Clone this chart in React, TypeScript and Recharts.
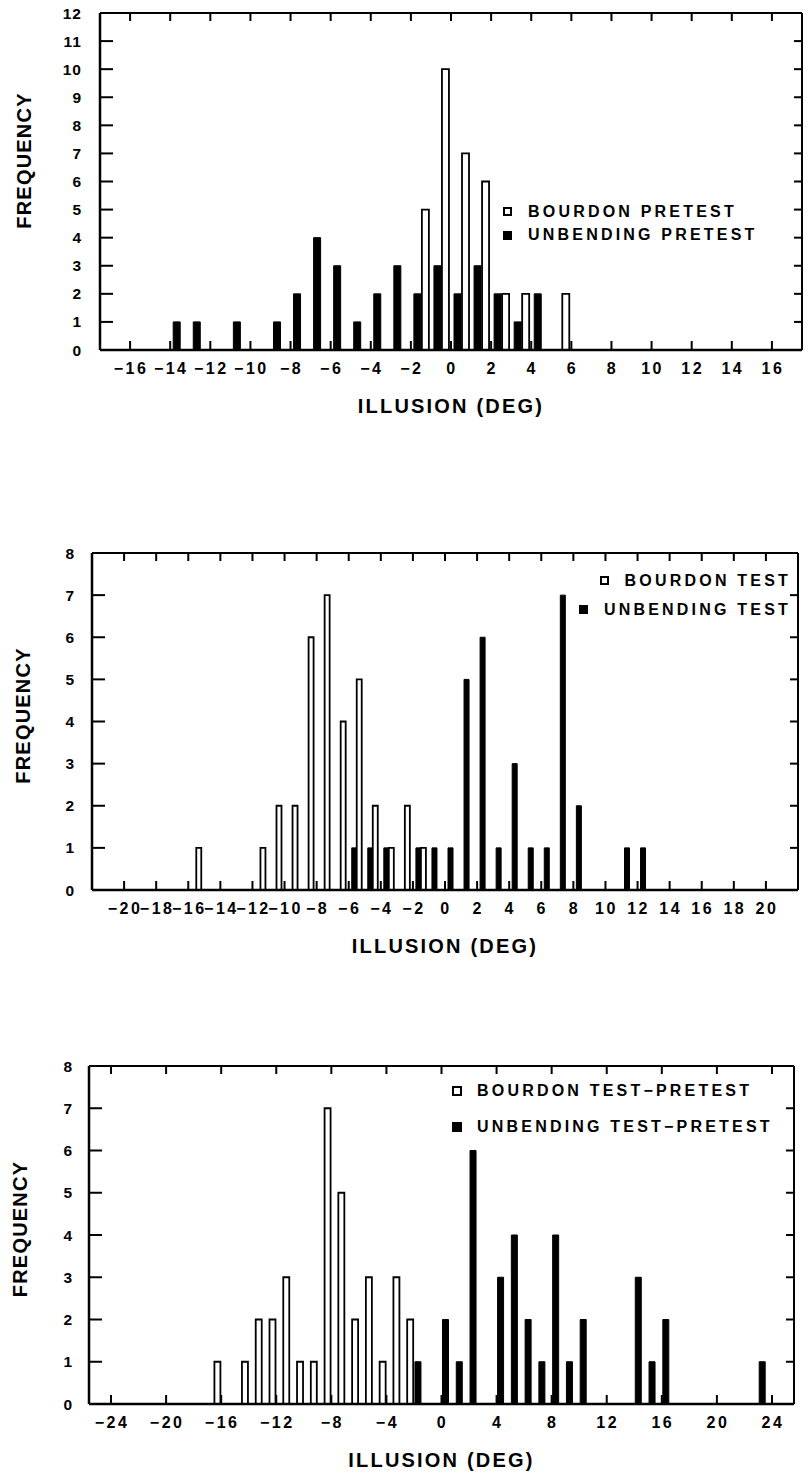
import React from 'react';
import { BarChart, Bar, XAxis, YAxis, Legend } from 'recharts';

const FONT = '"Liberation Sans", Arial, Helvetica, sans-serif';

// ---------- Panel 1: pretest (bins are lower edges of 1-degree bins) ----------
const bins1 = [-14, -13, -12, -11, -10, -9, -8, -7, -6, -5, -4, -3, -2, -1, 0, 1, 2, 3, 4, 5];
const unbending1 = [1, 1, 0, 1, 0, 1, 2, 4, 3, 1, 2, 3, 2, 3, 2, 3, 2, 1, 2, 0];
const bourdon1 = [0, 0, 0, 0, 0, 0, 0, 0, 0, 0, 0, 0, 5, 10, 7, 6, 2, 2, 0, 2];
const xTicks1 = [-16, -14, -12, -10, -8, -6, -4, -2, 0, 2, 4, 6, 8, 10, 12, 14, 16];
const yTicks1 = [0, 1, 2, 3, 4, 5, 6, 7, 8, 9, 10, 11, 12];
const names1 = { bourdon: 'BOURDON PRETEST', unbending: 'UNBENDING PRETEST' };

// ---------- Panel 2: test ----------
const bins2 = [-16, -15, -14, -13, -12, -11, -10, -9, -8, -7, -6, -5, -4, -3, -2, -1, 0, 1, 2, 3, 4, 5, 6, 7, 8, 9, 10, 11, 12];
const bourdon2 = [1, 0, 0, 0, 1, 2, 2, 6, 7, 4, 5, 2, 1, 2, 1, 0, 0, 0, 0, 0, 0, 0, 0, 0, 0, 0, 0, 0, 0];
const unbending2 = [0, 0, 0, 0, 0, 0, 0, 0, 0, 0, 1, 1, 1, 0, 1, 1, 1, 5, 6, 1, 3, 1, 1, 7, 2, 0, 0, 1, 1];
const xTicks2 = [-20, -18, -16, -14, -12, -10, -8, -6, -4, -2, 0, 2, 4, 6, 8, 10, 12, 14, 16, 18, 20];
const yTicks2 = [0, 1, 2, 3, 4, 5, 6, 7, 8];
const names2 = { bourdon: 'BOURDON TEST', unbending: 'UNBENDING TEST' };

// ---------- Panel 3: test - pretest ----------
const bins3 = [-17, -16, -15, -14, -13, -12, -11, -10, -9, -8, -7, -6, -5, -4, -3, -2, -1, 0, 1, 2, 3, 4, 5, 6, 7, 8, 9, 10, 11, 12, 13, 14, 15, 16, 17, 18, 19, 20, 21, 22, 23];
const bourdon3 = [1, 0, 1, 2, 2, 3, 1, 1, 7, 5, 2, 3, 1, 3, 2, 0, 0, 0, 0, 0, 0, 0, 0, 0, 0, 0, 0, 0, 0, 0, 0, 0, 0, 0, 0, 0, 0, 0, 0, 0, 0];
const unbending3 = [0, 0, 0, 0, 0, 0, 0, 0, 0, 0, 0, 0, 0, 0, 0, 1, 0, 2, 1, 6, 0, 3, 4, 2, 1, 4, 1, 2, 0, 0, 0, 3, 1, 2, 0, 0, 0, 0, 0, 0, 1];
const xTicks3 = [-24, -20, -16, -12, -8, -4, 0, 4, 8, 12, 16, 20, 24];
const yTicks3 = [0, 1, 2, 3, 4, 5, 6, 7, 8];
const names3 = { bourdon: 'BOURDON TEST\u2212PRETEST', unbending: 'UNBENDING TEST\u2212PRETEST' };

const makeData = (bins: number[], unb: number[], bou: number[]) =>
  bins.map((b, i) => ({ x: b + 0.5, unbending: unb[i] || null, bourdon: bou[i] || null }));

const fmt = (v: number) => (v < 0 ? '\u2212' + Math.abs(v) : String(v));

function XTick(props: any) {
  const { x, y, payload } = props;
  return (
    <text x={x + 1} y={y} dy="0.71em" textAnchor="middle" fill="#000" fontSize={16} fontWeight={700} fontFamily={FONT} letterSpacing={2.5}>
      {fmt(payload.value)}
    </text>
  );
}

function YTick(props: any) {
  const { x, y, payload } = props;
  return (
    <text x={x} y={y} dy="0.36em" textAnchor="end" fill="#000" fontSize={15.5} fontWeight={700} fontFamily={FONT} letterSpacing={1}>
      {fmt(payload.value)}
    </text>
  );
}

function EmptyTick() {
  return <g />;
}

type LegendOpts = { rowH: number; align: 'left' | 'right'; sq: number; gap: number };

function makeLegend(names: { bourdon: string; unbending: string }, o: LegendOpts) {
  const order: ('bourdon' | 'unbending')[] = ['bourdon', 'unbending'];
  return (props: any) => {
    const payload: any[] = props.payload || [];
    return (
      <div style={{ fontFamily: FONT, fontWeight: 700, fontSize: 16, letterSpacing: 3.2, color: '#000' }}>
        {order.map((k) => {
          const p = payload.find((e: any) => e.dataKey === k);
          const label = (p && p.value) || names[k];
          return (
            <div
              key={k}
              style={{
                display: 'flex',
                alignItems: 'center',
                justifyContent: o.align === 'right' ? 'flex-end' : 'flex-start',
                height: o.rowH,
              }}
            >
              <span
                style={{
                  display: 'inline-block',
                  width: o.sq,
                  height: o.sq,
                  boxSizing: 'border-box',
                  border: '2px solid #000',
                  background: k === 'unbending' ? '#000' : '#fff',
                  marginRight: o.gap,
                  flex: 'none',
                }}
              />
              <span style={{ lineHeight: 1, whiteSpace: 'nowrap' }}>{label}</span>
            </div>
          );
        })}
      </div>
    );
  };
}

type Box = { top: number; right: number; bottom: number; left: number };

type PanelSpec = {
  top: number;
  height: number;
  plot: Box; // plot edges measured from the chart's own box
  data: any[];
  xDomain: [number, number];
  xTicks: number[];
  yMax: number;
  yTicks: number[];
  barSize: number;
  barGap: number;
  names: { bourdon: string; unbending: string };
  legendBox: { left: number; top: number; width: number };
  legendOpts: LegendOpts;
  yTitle: { offset: number; dy: number };
  yLabelGap: number;
};

const AX = 1; // size reserved for every axis (must be > 0 to be drawn)
const BLACK = { stroke: '#000', strokeWidth: 2 };

function Panel(s: PanelSpec) {
  // bottom and left sides each hold two stacked axes (labels + inward tick marks)
  const margin = {
    top: s.plot.top - AX,
    right: s.plot.right - AX,
    bottom: s.plot.bottom - 2 * AX,
    left: s.plot.left - 2 * AX,
  };
  return (
    <div style={{ position: 'absolute', left: 0, top: s.top }}>
      <BarChart width={810} height={s.height} data={s.data} margin={margin} barGap={s.barGap} barCategoryGap={0}>
        {/* bottom axis: line + labels */}
        <XAxis
          xAxisId="b"
          dataKey="x"
          type="number"
          domain={s.xDomain}
          ticks={s.xTicks}
          interval={0}
          allowDataOverflow
          orientation="bottom"
          height={AX}
          {...BLACK}
          axisLine={{ stroke: '#000', strokeWidth: 2.5 }}
          tickLine={false}
          tickSize={0}
          tickMargin={13}
          tick={<XTick />}
          label={{
            value: 'ILLUSION (DEG)',
            position: 'bottom',
            offset: 48,
            fill: '#000',
            fontSize: 20,
            fontWeight: 700,
            fontFamily: FONT,
            style: { letterSpacing: '2.2px' },
          }}
        />
        {/* bottom axis: inward tick marks */}
        <XAxis
          xAxisId="bm"
          dataKey="x"
          type="number"
          domain={s.xDomain}
          ticks={s.xTicks}
          interval={0}
          allowDataOverflow
          orientation="bottom"
          mirror
          height={AX}
          {...BLACK}
          axisLine={false}
          tickLine={BLACK}
          tickSize={9}
          tick={EmptyTick}
        />
        {/* top axis: frame line + inward tick marks */}
        <XAxis
          xAxisId="t"
          dataKey="x"
          type="number"
          domain={s.xDomain}
          ticks={s.xTicks}
          interval={0}
          allowDataOverflow
          orientation="top"
          mirror
          height={AX}
          {...BLACK}
          axisLine={BLACK}
          tickLine={BLACK}
          tickSize={8}
          tick={EmptyTick}
        />
        {/* left axis: line + labels */}
        <YAxis
          yAxisId="l"
          type="number"
          domain={[0, s.yMax]}
          ticks={s.yTicks}
          interval={0}
          allowDataOverflow
          orientation="left"
          width={AX}
          {...BLACK}
          axisLine={{ stroke: '#000', strokeWidth: 2.5 }}
          tickLine={false}
          tickSize={0}
          tickMargin={s.yLabelGap}
          tick={<YTick />}
          label={{
            value: 'FREQUENCY',
            angle: -90,
            position: 'left',
            offset: s.yTitle.offset,
            dy: s.yTitle.dy,
            fill: '#000',
            fontSize: 20,
            fontWeight: 700,
            fontFamily: FONT,
            style: { textAnchor: 'middle', letterSpacing: '1.2px' },
          }}
        />
        {/* left axis: inward tick marks */}
        <YAxis
          yAxisId="lm"
          type="number"
          domain={[0, s.yMax]}
          ticks={s.yTicks}
          interval={0}
          allowDataOverflow
          orientation="left"
          mirror
          width={AX}
          {...BLACK}
          axisLine={false}
          tickLine={BLACK}
          tickSize={13}
          tick={EmptyTick}
        />
        {/* right axis: frame line + inward tick marks */}
        <YAxis
          yAxisId="r"
          type="number"
          domain={[0, s.yMax]}
          ticks={s.yTicks}
          interval={0}
          allowDataOverflow
          orientation="right"
          mirror
          width={AX}
          {...BLACK}
          axisLine={BLACK}
          tickLine={BLACK}
          tickSize={8}
          tick={EmptyTick}
        />
        <Bar
          xAxisId="b"
          yAxisId="l"
          dataKey="unbending"
          name={s.names.unbending}
          fill="#000"
          stroke="#000"
          strokeWidth={1}
          barSize={s.barSize}
          isAnimationActive={false}
        />
        <Bar
          xAxisId="b"
          yAxisId="l"
          dataKey="bourdon"
          name={s.names.bourdon}
          fill="#fff"
          stroke="#000"
          strokeWidth={1.8}
          barSize={s.barSize}
          isAnimationActive={false}
        />
        <Legend
          layout="vertical"
          align="center"
          verticalAlign="middle"
          content={makeLegend(s.names, s.legendOpts)}
          wrapperStyle={{ position: 'absolute', left: s.legendBox.left, top: s.legendBox.top, width: s.legendBox.width }}
        />
      </BarChart>
    </div>
  );
}

export default function App() {
  return (
    <div style={{ position: 'absolute', left: 0, top: 0, width: 810, height: 1475, background: '#fff' }}>
      <Panel
        top={0}
        height={460}
        plot={{ top: 14, right: 9, bottom: 111, left: 101 }}
        data={makeData(bins1, unbending1, bourdon1)}
        xDomain={[-17.5, 17.5]}
        xTicks={xTicks1}
        yMax={12}
        yTicks={yTicks1}
        barSize={7}
        barGap={1}
        names={names1}
        legendBox={{ left: 503, top: 200, width: 290 }}
        legendOpts={{ rowH: 23.5, align: 'left', sq: 9, gap: 16 }}
        yTitle={{ offset: 75, dy: -21 }}
        yLabelGap={18}
      />
      <Panel
        top={500}
        height={460}
        plot={{ top: 54, right: 13, bottom: 71, left: 93 }}
        data={makeData(bins2, unbending2, bourdon2)}
        xDomain={[-22, 22]}
        xTicks={xTicks2}
        yMax={8}
        yTicks={yTicks2}
        barSize={5}
        barGap={0}
        names={names2}
        legendBox={{ left: 540, top: 66, width: 251 }}
        legendOpts={{ rowH: 29.3, align: 'right', sq: 9, gap: 16 }}
        yTitle={{ offset: 68, dy: -6 }}
        yLabelGap={17}
      />
      <Panel
        top={1000}
        height={475}
        plot={{ top: 67, right: 17, bottom: 72, left: 90 }}
        data={makeData(bins3, unbending3, bourdon3)}
        xDomain={[-25.6, 25.6]}
        xTicks={xTicks3}
        yMax={8}
        yTicks={yTicks3}
        barSize={6}
        barGap={0}
        names={names3}
        legendBox={{ left: 452, top: 73, width: 350 }}
        legendOpts={{ rowH: 35.7, align: 'left', sq: 10, gap: 15 }}
        yTitle={{ offset: 68, dy: -6 }}
        yLabelGap={16}
      />
    </div>
  );
}
